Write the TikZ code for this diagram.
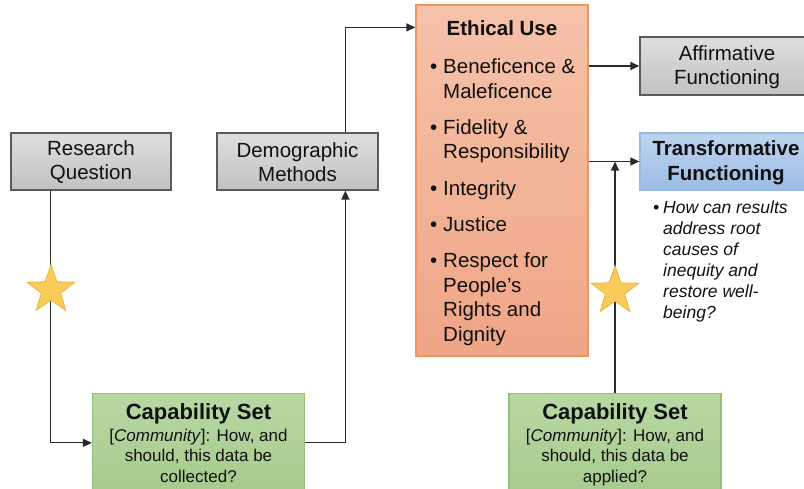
\documentclass[tikz,border=0pt]{standalone}
\usepackage{fontspec}
\setmainfont{Liberation Sans}
\usetikzlibrary{shapes.geometric,arrows.meta}
\definecolor{grayT}{HTML}{DEDEDE}
\definecolor{grayB}{HTML}{C2C2C2}
\definecolor{grayD}{HTML}{5A5A5A}
\definecolor{ethT}{HTML}{F5C2AA}
\definecolor{ethB}{HTML}{EFA586}
\definecolor{ethD}{HTML}{EE9663}
\definecolor{bluT}{HTML}{BED4EF}
\definecolor{bluB}{HTML}{9DBCE5}
\definecolor{bluD}{HTML}{9BB9E0}
\definecolor{grnT}{HTML}{B8D8A3}
\definecolor{grnB}{HTML}{A6CB8D}
\definecolor{grnD}{HTML}{95BF7C}
\definecolor{starF}{HTML}{F8CC58}
\definecolor{starD}{HTML}{EDB945}
\definecolor{linec}{HTML}{2A2A2A}
\definecolor{txt}{HTML}{111111}
\begin{document}
\begin{tikzpicture}[x=1pt,y=-1pt,
  every node/.style={text=txt},
  graybox/.style={draw=grayD, line width=1.2pt, top color=grayT, bottom color=grayB,
    minimum width=160pt, minimum height=57pt, align=center, inner sep=0pt,
    font=\fontsize{20.5}{24}\selectfont},
  blubox/.style={draw=bluD, line width=1.2pt, top color=bluT, bottom color=bluB,
    minimum width=172pt, minimum height=57pt, align=center, inner sep=0pt,
    font=\fontsize{20.5}{24.5}\selectfont\bfseries},
  ethbox/.style={draw=ethD, line width=1.2pt, top color=ethT, bottom color=ethB,
    minimum width=172pt, minimum height=351pt, inner sep=0pt},
  grnbox/.style={draw=grnD, line width=1.2pt, top color=grnT, bottom color=grnB,
    minimum width=212pt, align=center, inner xsep=0pt, inner ysep=9.6pt,
    font=\fontsize{17}{20.5}\selectfont, anchor=north},
  conn/.style={draw=linec, line width=1.2pt},
  arr/.style={conn, -{Triangle[length=9pt,width=8pt]}},
  starshape/.style={star, star points=5, star point ratio=2.5, minimum size=50pt,
    inner sep=0pt, fill=starF, draw=starD, line width=1pt}
]
\useasboundingbox (0,0) rectangle (804,488);

% boxes
\node[graybox] (rq) at (91,161.5) {\strut Research\\Question};
\node[graybox, minimum width=161pt] (dm) at (297.5,161.5) {\strut Demographic\\Methods};
\node[ethbox] (eu) at (502,180.5) {};
\node[graybox, minimum width=174pt, minimum height=58pt] (af) at (727,66) {\strut Affirmative\\Functioning};
\node[blubox] (tf) at (726,161.5) {\strut Transformative\\Functioning};
\node[grnbox] (cs1) at (198.5,393) {{\fontsize{22}{26}\selectfont\bfseries Capability Set}\\[1.7pt]
  [\textit{Community}]: How, and\\ should, this data be\\ collected?};
\node[grnbox] (cs2) at (615,393) {{\fontsize{22}{26}\selectfont\bfseries Capability Set}\\[1.7pt]
  [\textit{Community}]: How, and\\ should, this data be\\ applied?};

% ethical use content
\node[font=\fontsize{20.5}{24.5}\selectfont\bfseries] (eutitle) at (502,28) {Ethical Use};
\node[anchor=north west, align=left, inner sep=0pt, font=\fontsize{20.5}{24.5}\selectfont] (eulist) at (430,58.5) {%
\makebox[13pt][l]{•}Beneficence \&\\ \makebox[13pt]{}Maleficence\\[11.8pt]
\makebox[13pt][l]{•}Fidelity \&\\ \makebox[13pt]{}Responsibility\\[11.8pt]
\makebox[13pt][l]{•}Integrity\\[11.8pt]
\makebox[13pt][l]{•}Justice\\[11.8pt]
\makebox[13pt][l]{•}Respect for\\ \makebox[13pt]{}People’s\\ \makebox[13pt]{}Rights and\\ \makebox[13pt]{}Dignity};

% transformative question
\node[anchor=north west, align=left, inner sep=0pt, font=\fontsize{17.5}{21}\selectfont\itshape] (tfq) at (653,200.5) {%
\makebox[10pt][l]{•}How can results\\ \makebox[10pt]{}address root\\ \makebox[10pt]{}causes of\\
\makebox[10pt]{}inequity and\\ \makebox[10pt]{}restore well-\\ \makebox[10pt]{}being?};

% connectors
\draw[arr] ([xshift=40pt]rq.south west) |- (cs1.west);
\draw[arr] (cs1.east) -| ([xshift=129pt]dm.south west);
\draw[arr] ([xshift=129pt]dm.north west) |- ([yshift=-23pt]eu.north west);
\draw[arr] (eu.east |- af.west) -- (af.west);
\draw[arr] (eu.east |- tf.west) -- (tf.west);
\coordinate (join) at (cs2.north |- tf.west);
\draw[arr] (cs2.north) -- (join);

% stars
\node[starshape] (star1) at (51,290) {};
\node[starshape] (star2) at (615,291) {};
\end{tikzpicture}
\end{document}
